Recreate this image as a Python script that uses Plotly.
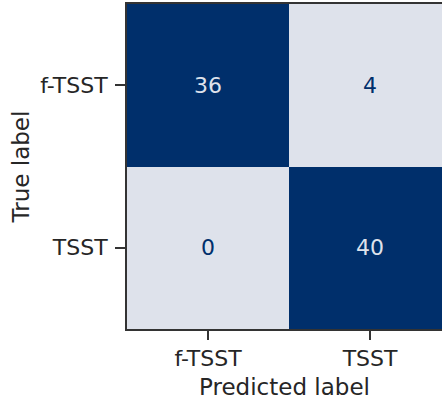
import plotly.graph_objects as go

# Confusion matrix: rows = true label, columns = predicted label
labels = ["f-TSST", "TSST"]
counts = [
    [36, 4],
    [0, 40],
]

dark = "#002f6b"
light = "#dee2eb"
ink = "#262626"
frame = "#333333"

fig = go.Figure(
    go.Heatmap(
        z=counts,
        x=[0, 1],
        y=[0, 1],
        zmin=0,
        zmax=40,
        colorscale=[[0, light], [0.15, light], [0.85, dark], [1, dark]],
        showscale=False,
        hoverinfo="skip",
    )
)

threshold = 20
for i, row in enumerate(counts):
    for j, v in enumerate(row):
        fig.add_annotation(
            x=j, y=i, text=str(v), showarrow=False,
            font=dict(family="DejaVu Sans", size=22,
                      color=light if v > threshold else dark),
        )

fig.update_layout(
    width=442,
    height=403,
    margin=dict(l=127, r=0, t=4, b=74),
    paper_bgcolor="white",
    plot_bgcolor="white",
    font=dict(family="DejaVu Sans", color=ink),
    showlegend=False,
)

fig.update_xaxes(
    range=[-0.5, 1.444],
    tickvals=[0, 1],
    ticktext=labels,
    tickfont=dict(size=22, color=ink),
    title=dict(text="Predicted label", font=dict(size=23, color=ink), standoff=8),
    showgrid=False,
    zeroline=False,
    showline=True,
    linecolor=frame,
    linewidth=2,
    mirror=True,
    ticks="outside",
    ticklen=9,
    tickwidth=2,
    tickcolor=frame,
)

fig.update_yaxes(
    range=[1.5, -0.5],
    tickvals=[0, 1],
    ticktext=labels,
    ticklabelstandoff=3,
    tickfont=dict(size=22, color=ink),
    title=dict(text="True label", font=dict(size=23, color=ink), standoff=4),
    showgrid=False,
    zeroline=False,
    showline=True,
    linecolor=frame,
    linewidth=2,
    mirror=False,
    ticks="outside",
    ticklen=10,
    tickwidth=2,
    tickcolor=frame,
)

fig.write_html("out.html")
